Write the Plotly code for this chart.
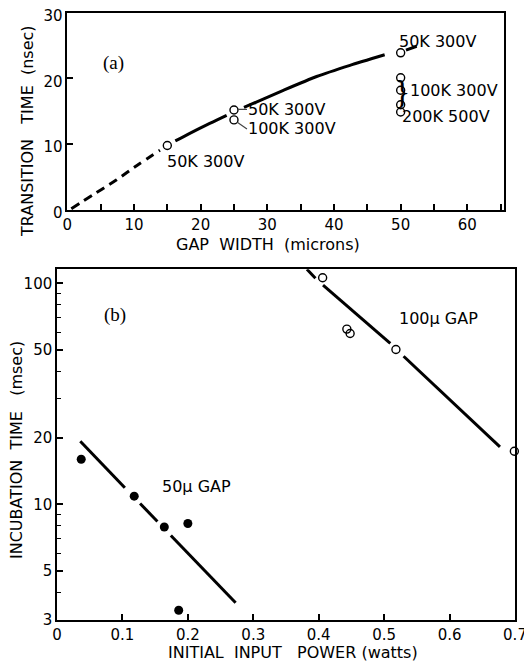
import numpy as np
import plotly.graph_objects as go

# ---------------- data: panel (a) ----------------
gap_pts = [15, 25, 25, 50, 50, 50, 50, 50]
trans_pts = [9.8, 15.2, 13.7, 23.9, 20.1, 18.2, 16.0, 14.9]

# fitted curve (dashed part, then solid pieces)
curve_dash_x = [0.6, 4, 7.4, 10.5, 13.9]
curve_dash_y = [0.2, 2.4, 4.6, 6.8, 9.1]
curve_solid_x = [16.2, 20, 23.9, None, 26.5, 32.4, 37.4, 42.4, 47.6, None, 50.8, 52.4]
curve_solid_y = [10.5, 12.5, 14.4, None, 15.6, 18.2, 20.3, 22.0, 23.6, None, 24.3, 24.9]

# ---------------- data: panel (b) ----------------
p50_x = [0.037, 0.118, 0.164, 0.200, 0.186]
p50_y = [16.0, 10.9, 7.9, 8.2, 3.32]
fit50_x = [0.0356, 0.1037, None, 0.127, 0.1535, None, 0.174, 0.273]
fit50_y = [19.3, 11.9, None, 10.1, 8.37, None, 7.24, 3.59]

p100_x = [0.406, 0.443, 0.448, 0.518, 0.699]
p100_y = [106, 62.1, 59.3, 50.2, 17.4]
fit100_x = [0.382, 0.395, None, 0.4066, 0.5094, None, 0.5297, 0.677]
fit100_y = [115.8, 105.4, None, 98.2, 53.5, None, 46.8, 18.2]

x_a_ticks = list(range(0, 70, 5))
x_a_text = [str(v) if v % 10 == 0 else "" for v in x_a_ticks]
y_a_ticks = [0, 10, 20, 30]
x_b_ticks = [0, 0.1, 0.2, 0.3, 0.4, 0.5, 0.6, 0.7]
x_b_text = ["0", "0.1", "0.2", "0.3", "0.4", "0.5", "0.6", "0.7"]
y_b_major = [3, 5, 10, 20, 50, 100]
y_b_minor = [4, 6, 7, 8, 9, 30, 40, 60, 70, 80, 90]

FONT = "DejaVu Sans"
# the page body has an 8px default margin: size the figure so it fills the window
OFF = 8
W, H = 532 - OFF, 666 - OFF


def px(X):
    return (X - OFF) / W


def py(Y):
    return 1 - (Y - OFF) / H


fig = go.Figure()

# panel (a)
fig.add_trace(go.Scatter(x=curve_dash_x, y=curve_dash_y, mode="lines",
                         line=dict(color="black", width=3, dash="9px,6px", shape="spline"),
                         xaxis="x", yaxis="y", hoverinfo="skip"))
fig.add_trace(go.Scatter(x=curve_solid_x, y=curve_solid_y, mode="lines",
                         line=dict(color="black", width=3, shape="spline", smoothing=0.6),
                         connectgaps=False, xaxis="x", yaxis="y", hoverinfo="skip"))
fig.add_trace(go.Scatter(x=gap_pts, y=trans_pts, mode="markers",
                         marker=dict(symbol="circle-open", size=8, color="black",
                                     line=dict(width=1.4)),
                         xaxis="x", yaxis="y", cliponaxis=False))

# panel (b)
fig.add_trace(go.Scatter(x=fit50_x, y=fit50_y, mode="lines",
                         line=dict(color="black", width=3),
                         xaxis="x2", yaxis="y2", hoverinfo="skip"))
fig.add_trace(go.Scatter(x=fit100_x, y=fit100_y, mode="lines",
                         line=dict(color="black", width=3),
                         xaxis="x2", yaxis="y2", hoverinfo="skip"))
fig.add_trace(go.Scatter(x=p50_x, y=p50_y, mode="markers",
                         marker=dict(symbol="circle", size=9, color="black"),
                         xaxis="x2", yaxis="y2", cliponaxis=False))
fig.add_trace(go.Scatter(x=p100_x, y=p100_y, mode="markers",
                         marker=dict(symbol="circle-open", size=8, color="black",
                                     line=dict(width=1.4)),
                         xaxis="x2", yaxis="y2", cliponaxis=False))

axis_common = dict(showline=True, linecolor="black", linewidth=1.5, mirror=True,
                   ticks="inside", tickcolor="black", tickwidth=1.5, ticklen=6,
                   showgrid=False, zeroline=False, automargin=False,
                   ticklabeloverflow="allow",
                   tickfont=dict(family=FONT, size=15, color="black"))

fig.update_layout(
    template="none",
    width=W, height=H, margin=dict(l=0, r=0, t=0, b=0, pad=0, autoexpand=False),
    paper_bgcolor="white", plot_bgcolor="white", showlegend=False,
    xaxis=dict(domain=[px(67.3), px(504)], range=[0, 65.5], anchor="y",
               tickmode="array", tickvals=x_a_ticks, ticktext=x_a_text, **axis_common),
    yaxis=dict(domain=[py(210), py(12.7)], range=[0, 30], anchor="x",
               tickmode="array", tickvals=y_a_ticks, ticklabelshift=3, **axis_common),
    xaxis2=dict(domain=[px(57), px(515)], range=[0, 0.7], anchor="y2",
                tickmode="array", tickvals=x_b_ticks, ticktext=x_b_text, **axis_common),
    yaxis2=dict(domain=[py(620), py(269.3)], type="log",
                range=[np.log10(3), np.log10(115.8)], anchor="x2",
                tickmode="array", tickvals=y_b_major,
                ticktext=[str(v) for v in y_b_major],
                minor=dict(tickvals=y_b_minor, ticks="inside", ticklen=4,
                           tickcolor="black", tickwidth=1.2),
                **axis_common),
)

lab = dict(family=FONT, size=16, color="black")
tfont = dict(family=FONT, size=16, color="black")
C = dict(xanchor="center", yanchor="middle")
ann = []
# axis titles
ann.append(dict(text="GAP  WIDTH  (microns)", x=px(268), y=py(245), xref="paper", yref="paper",
                showarrow=False, font=tfont, **C))
ann.append(dict(text="TRANSITION   TIME  (nsec)", x=px(27), y=py(131), xref="paper", yref="paper",
                showarrow=False, textangle=-90, font=tfont, **C))
ann.append(dict(text="INITIAL  INPUT   POWER (watts)", x=px(293), y=py(652), xref="paper", yref="paper",
                showarrow=False, font=tfont, **C))
ann.append(dict(text="INCUBATION  TIME   (msec)", x=px(17), y=py(450), xref="paper", yref="paper",
                showarrow=False, textangle=-90, font=tfont, **C))
# panel letters
ann.append(dict(text="(a)", x=6.9, y=22.3, xref="x", yref="y", showarrow=False,
                font=dict(family="Liberation Serif", size=19, color="black"), **C))
ann.append(dict(text="(b)", x=0.088, y=np.log10(71.8), xref="x2", yref="y2", showarrow=False,
                font=dict(family="Liberation Serif", size=19, color="black"), **C))
# panel (a) point labels
ann.append(dict(text="50K 300V", x=14.65, y=7.3, xref="x", yref="y", showarrow=False,
                xanchor="left", yanchor="middle", font=lab))
ann.append(dict(text="50K 300V", x=25, y=15.3, xref="x", yref="y", showarrow=True,
                arrowhead=0, arrowwidth=1.2, ax=13, ay=0, xanchor="left", yanchor="middle",
                standoff=4, borderpad=0, font=lab))
ann.append(dict(text="100K 300V", x=25, y=13.7, xref="x", yref="y", showarrow=True,
                arrowhead=0, arrowwidth=1.2, ax=13, ay=9, xanchor="left", yanchor="middle",
                standoff=4, borderpad=0, font=lab))
ann.append(dict(text="50K 300V", x=49.4, y=25.6, xref="x", yref="y", showarrow=False,
                xanchor="left", yanchor="middle", font=lab))
ann.append(dict(text="}", x=50.2, y=18.0, xref="x", yref="y", showarrow=False,
                borderpad=0, font=dict(family="Liberation Serif", size=34, color="black"), **C))
ann.append(dict(text="100K 300V", x=51.1, y=18.2, xref="x", yref="y", showarrow=False,
                xanchor="left", yanchor="middle", font=lab))
ann.append(dict(text="200K 500V", x=49.9, y=14.2, xref="x", yref="y", showarrow=False,
                xanchor="left", yanchor="middle", font=lab))
# panel (b) labels
ann.append(dict(text="100\u03bc GAP", x=0.52, y=np.log10(69.4), xref="x2", yref="y2",
                showarrow=False, xanchor="left", yanchor="middle", font=lab))
ann.append(dict(text="50\u03bc GAP", x=0.158, y=np.log10(12.0), xref="x2", yref="y2",
                showarrow=False, xanchor="left", yanchor="middle", font=lab))

fig.update_layout(annotations=ann)
fig.write_html("out.html")
